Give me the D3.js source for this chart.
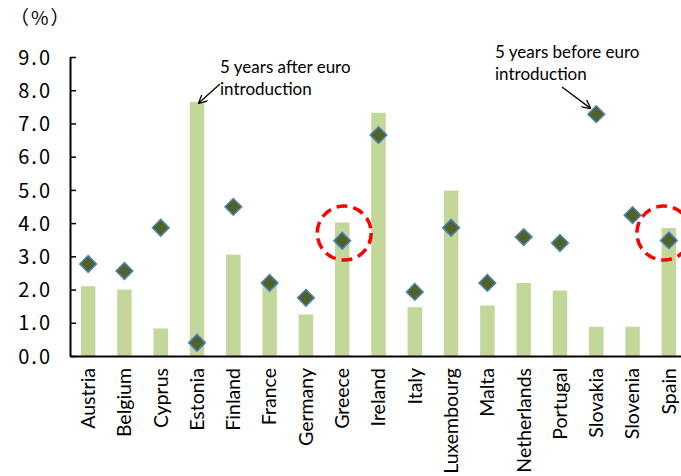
<!DOCTYPE html>
<html>
<head>
<meta charset="utf-8">
<script src="https://cdn.jsdelivr.net/npm/d3@7"></script>
<style>
  html, body { margin: 0; padding: 0; background: #fff; }
  svg { display: block; }
</style>
</head>
<body>
<svg id="chart" width="681" height="476"></svg>
<script>
// Inflation by euro-area country: bars = 5 years after euro introduction,
// diamonds = 5 years before euro introduction (%)
const countries = ["Austria", "Belgium", "Cyprus", "Estonia", "Finland", "France", "Germany",
  "Greece", "Ireland", "Italy", "Luxembourg", "Malta", "Netherlands", "Portugal",
  "Slovakia", "Slovenia", "Spain"];
const afterValues = [2.1, 2.0, 0.83, 7.65, 3.05, 2.2, 1.25, 4.02, 7.32, 1.47, 4.98, 1.52, 2.2, 1.97, 0.88, 0.88, 3.85];
const beforeValues = [2.77, 2.56, 3.86, 0.4, 4.49, 2.2, 1.75, 3.47, 6.65, 1.93, 3.86, 2.2, 3.58, 3.4, 7.28, 4.24, 3.48];
const yTicks = [0, 1, 2, 3, 4, 5, 6, 7, 8, 9];
const highlighted = ["Greece", "Spain"];

const svg = d3.select("#chart");
const plotLeft = 70, plotRight = 687, plotTop = 57, plotBottom = 356;

const x = d3.scaleBand().domain(countries).range([plotLeft, plotRight]).paddingInner(0.6).paddingOuter(0.3);
const y = d3.scaleLinear().domain([0, 9]).range([plotBottom, plotTop]);

// bars
svg.append("g").selectAll("rect").data(countries).join("rect")
  .attr("x", d => x(d))
  .attr("width", x.bandwidth())
  .attr("y", (d, i) => y(afterValues[i]))
  .attr("height", (d, i) => y(0) - y(afterValues[i]))
  .attr("fill", "#c4d79b");

// y axis with inward ticks
const yAxis = d3.axisLeft(y).tickValues(yTicks).tickSizeInner(-6).tickSizeOuter(0).tickFormat(d3.format(".1f"));
const gy = svg.append("g").attr("transform", `translate(${plotLeft},0)`).call(yAxis);
gy.select(".domain").attr("stroke", "#000").attr("stroke-width", 2);
gy.selectAll(".tick line").attr("stroke", "#000").attr("stroke-width", 1.5);
gy.selectAll(".tick text")
  .attr("x", -18)
  .attr("dy", "0.36em")
  .style("font-family", "'Noto Sans CJK JP', sans-serif")
  .style("font-size", "20px")
  .style("letter-spacing", "2px")
  .attr("fill", "#000");

// x axis
const xAxis = d3.axisBottom(x).tickSize(0).tickSizeOuter(0);
const gx = svg.append("g").attr("transform", `translate(0,${plotBottom})`).call(xAxis);
gx.select(".domain").attr("stroke", "#000").attr("stroke-width", 2);
gx.selectAll(".tick text")
  .attr("transform", "rotate(-90)")
  .attr("x", -12)
  .attr("y", 0)
  .attr("dy", "0.35em")
  .attr("text-anchor", "end")
  .style("font-family", "Lato, 'Open Sans', sans-serif")
  .style("font-size", "19.5px")
  .attr("fill", "#000");

// diamonds
const diamond = d3.symbol().type(d3.symbolSquare).size(140);
svg.append("g").selectAll("path").data(countries).join("path")
  .attr("d", diamond)
  .attr("transform", (d, i) => `translate(${x(d) + x.bandwidth() / 2},${y(beforeValues[i])}) rotate(45)`)
  .attr("fill", "#4f6228")
  .attr("stroke", "#4f81bd")
  .attr("stroke-width", 1.5);

// highlight circles
svg.append("g").selectAll("circle").data(highlighted).join("circle")
  .attr("cx", d => x(d) + x.bandwidth() / 2 + (d === "Spain" ? -5 : 2))
  .attr("cy", y(3.7))
  .attr("r", 27)
  .attr("fill", "none")
  .attr("stroke", "#ff0000")
  .attr("stroke-width", 3.5)
  .attr("stroke-dasharray", "11 6");

// unit label
svg.append("text")
  .attr("x", 10).attr("y", 25)
  .style("font-family", "'Noto Sans CJK JP', sans-serif")
  .style("font-size", "19px")
  .style("letter-spacing", "2px")
  .text("（%）");

// annotations
svg.append("defs").append("marker")
  .attr("id", "arrow").attr("viewBox", "0 0 10 10")
  .attr("refX", 9).attr("refY", 5)
  .attr("markerWidth", 9).attr("markerHeight", 9)
  .attr("markerUnits", "userSpaceOnUse")
  .attr("orient", "auto")
  .append("path").attr("d", "M0,0 L10,5 L0,10").attr("fill", "none").attr("stroke", "#000").attr("stroke-width", 1.4);

function note(lines, tx, ty, from, to) {
  const t = svg.append("text")
    .style("font-family", "Lato, 'Open Sans', sans-serif")
    .style("font-size", "17px")
    .attr("fill", "#000");
  lines.forEach((s, i) => t.append("tspan").attr("x", tx).attr("y", ty + i * 22).text(s));
  svg.append("line")
    .attr("x1", from[0]).attr("y1", from[1])
    .attr("x2", to[0]).attr("y2", to[1])
    .attr("stroke", "#000").attr("stroke-width", 1.3)
    .attr("marker-end", "url(#arrow)");
}
const estX = x("Estonia") + x.bandwidth() / 2;
note(["5 years after euro", "introduction"], 220, 73, [220, 84], [estX + 2, y(afterValues[3]) + 1]);
const skX = x("Slovakia") + x.bandwidth() / 2;
note(["5 years before euro", "introduction"], 495, 58, [562, 87], [skX - 6, y(beforeValues[14]) - 6]);
</script>
</body>
</html>
